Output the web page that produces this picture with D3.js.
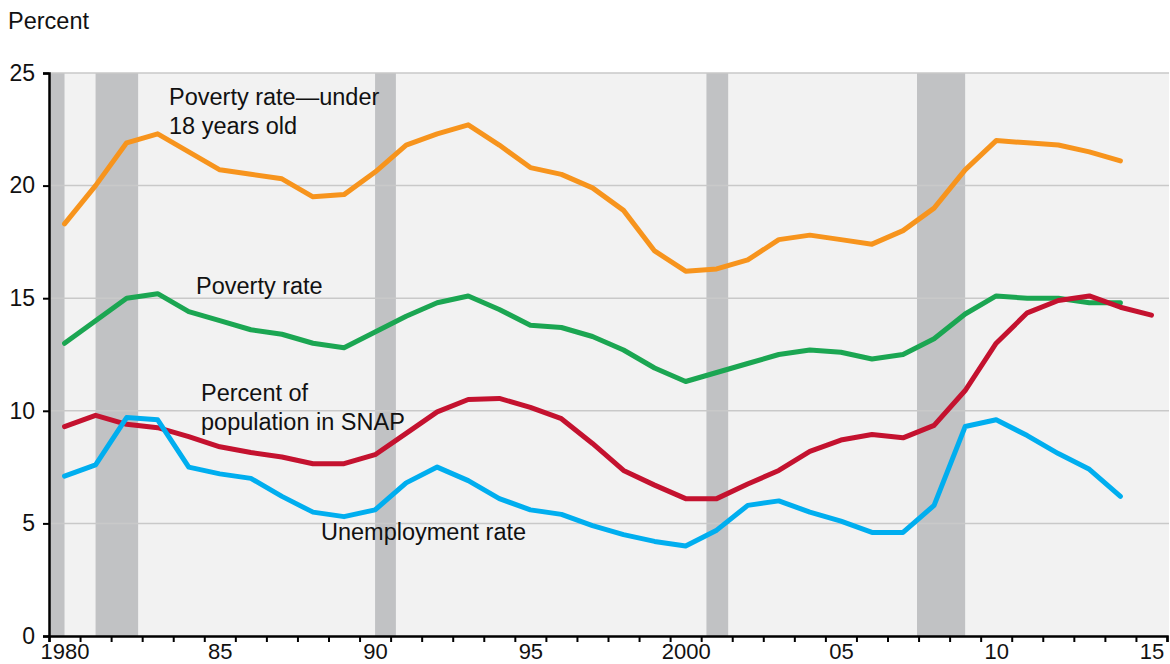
<!DOCTYPE html>
<html>
<head>
<meta charset="utf-8">
<script src="https://cdn.jsdelivr.net/npm/d3@7.9.0/dist/d3.min.js"></script>
<style>
  html, body { margin: 0; padding: 0; background: #fff; }
  svg { display: block; font-family: "Liberation Sans", Arial, Helvetica, sans-serif; }
</style>
</head>
<body>
<svg id="chart" width="1170" height="664"></svg>
<script>
// Years of the series (points sit at mid-year)
const years = d3.range(1980, 2016);

// Poverty rate, under 18 years old (1980-2014)
const childPoverty = [18.3, 20.0, 21.9, 22.3, 21.5, 20.7, 20.5, 20.3, 19.5, 19.6,
  20.6, 21.8, 22.3, 22.7, 21.8, 20.8, 20.5, 19.9, 18.9, 17.1,
  16.2, 16.3, 16.7, 17.6, 17.8, 17.6, 17.4, 18.0, 19.0, 20.7,
  22.0, 21.9, 21.8, 21.5, 21.1];

// Overall poverty rate (1980-2014)
const povertyRate = [13.0, 14.0, 15.0, 15.2, 14.4, 14.0, 13.6, 13.4, 13.0, 12.8,
  13.5, 14.2, 14.8, 15.1, 14.5, 13.8, 13.7, 13.3, 12.7, 11.9,
  11.3, 11.7, 12.1, 12.5, 12.7, 12.6, 12.3, 12.5, 13.2, 14.3,
  15.1, 15.0, 15.0, 14.8, 14.8];

// Percent of population in SNAP (1980-2015)
const snapShare = [9.3, 9.8, 9.4, 9.25, 8.85, 8.4, 8.15, 7.95, 7.65, 7.65,
  8.05, 9.0, 9.95, 10.5, 10.55, 10.15, 9.65, 8.55, 7.35, 6.7,
  6.1, 6.1, 6.75, 7.35, 8.2, 8.7, 8.95, 8.8, 9.35, 10.9,
  13.0, 14.35, 14.9, 15.1, 14.6, 14.25];

// Unemployment rate (1980-2014)
const unemployment = [7.1, 7.6, 9.7, 9.6, 7.5, 7.2, 7.0, 6.2, 5.5, 5.3,
  5.6, 6.8, 7.5, 6.9, 6.1, 5.6, 5.4, 4.9, 4.5, 4.2,
  4.0, 4.7, 5.8, 6.0, 5.5, 5.1, 4.6, 4.6, 5.8, 9.3,
  9.6, 8.9, 8.1, 7.4, 6.2];

// Recession periods (start, end) in fractional years
const recessions = [[1980.0, 1980.5], [1981.5, 1982.87], [1990.5, 1991.17],
  [2001.17, 2001.87], [2007.95, 2009.5]];

// Axis ticks and labels
const yTicks = [0, 5, 10, 15, 20, 25];
const xLabelYears = [1980, 1985, 1990, 1995, 2000, 2005, 2010, 2015];
const xLabelText = ['1980', '85', '90', '95', '2000', '05', '10', '15'];

const series = [
  { name: 'child', values: childPoverty, color: '#f7941d' },
  { name: 'poverty', values: povertyRate, color: '#1ba652' },
  { name: 'snap', values: snapShare, color: '#c4122f' },
  { name: 'unemp', values: unemployment, color: '#00aeef' }
];

const svg = d3.select('#chart');
const plotLeft = 49, plotRight = 1167, plotTop = 73, plotBottom = 636;

const x = d3.scaleLinear().domain([1980, 2016]).range([plotLeft, plotRight]);
const y = d3.scaleLinear().domain([0, 25]).range([plotBottom, plotTop]);

// plot background
svg.append('rect')
  .attr('x', plotLeft).attr('y', plotTop)
  .attr('width', plotRight - plotLeft + 2).attr('height', plotBottom - plotTop)
  .attr('fill', '#f2f2f2');

// recession bars
svg.append('g').selectAll('rect')
  .data(recessions)
  .join('rect')
  .attr('x', d => x(d[0]))
  .attr('width', d => x(d[1]) - x(d[0]))
  .attr('y', plotTop)
  .attr('height', plotBottom - plotTop)
  .attr('fill', '#c1c2c4');

// gridlines
svg.append('g').selectAll('line')
  .data(yTicks.filter(v => v > 0))
  .join('line')
  .attr('x1', plotLeft).attr('x2', plotRight + 2)
  .attr('y1', d => y(d)).attr('y2', d => y(d))
  .attr('stroke', '#c9c9c9')
  .attr('stroke-width', 1.5);

// lines
const line = d3.line()
  .x((d, i) => x(years[i] + 0.5))
  .y(d => y(d));

svg.append('g').selectAll('path')
  .data(series)
  .join('path')
  .attr('d', d => line(d.values))
  .attr('fill', 'none')
  .attr('stroke', d => d.color)
  .attr('stroke-width', 5)
  .attr('stroke-linejoin', 'round')
  .attr('stroke-linecap', 'round');

// y axis
const yAxis = svg.append('g')
  .attr('transform', `translate(${plotLeft},0)`)
  .call(d3.axisLeft(y).tickValues(yTicks).tickSize(6).tickPadding(8));
yAxis.select('.domain').attr('stroke', '#000').attr('stroke-width', 2.5);
yAxis.selectAll('.tick line').attr('stroke', '#000').attr('stroke-width', 2);
yAxis.selectAll('.tick text')
  .attr('font-size', 23).attr('fill', '#111')
  .attr('font-family', '"Liberation Sans", Arial, sans-serif');

// x axis: year ticks
const xAxis = svg.append('g')
  .attr('transform', `translate(0,${plotBottom})`)
  .call(d3.axisBottom(x).tickValues(d3.range(1980, 2017)).tickSize(6).tickFormat(''));
xAxis.select('.domain').attr('stroke', '#000').attr('stroke-width', 2.5);
xAxis.selectAll('.tick line').attr('stroke', '#000').attr('stroke-width', 2);

// x axis labels centered on mid-year
const xLab = svg.append('g')
  .attr('transform', `translate(0,${plotBottom})`)
  .call(d3.axisBottom(x)
    .tickValues(xLabelYears.map(v => v + 0.5))
    .tickSize(0).tickPadding(7.5)
    .tickFormat((d, i) => xLabelText[i]));
xLab.select('.domain').remove();
xLab.selectAll('.tick text')
  .attr('font-size', 22).attr('fill', '#111')
  .attr('font-family', '"Liberation Sans", Arial, sans-serif');

// unit label
svg.append('text')
  .attr('x', 8).attr('y', 29)
  .attr('font-size', 23.5).attr('fill', '#111')
  .text('Percent');

// series labels
const labels = [
  { lines: ['Poverty rate\u2014under', '18 years old'], x: 169, y: 105 },
  { lines: ['Poverty rate'], x: 196, y: 294 },
  { lines: ['Percent of', 'population in SNAP'], x: 201, y: 401 },
  { lines: ['Unemployment rate'], x: 321, y: 540 }
];

labels.forEach(l => {
  const t = svg.append('text')
    .attr('x', l.x).attr('y', l.y)
    .attr('font-size', 23.5).attr('fill', '#111');
  l.lines.forEach((s, i) => {
    t.append('tspan')
      .attr('x', l.x)
      .attr('dy', i === 0 ? 0 : 28.5)
      .text(s);
  });
});
</script>
</body>
</html>
